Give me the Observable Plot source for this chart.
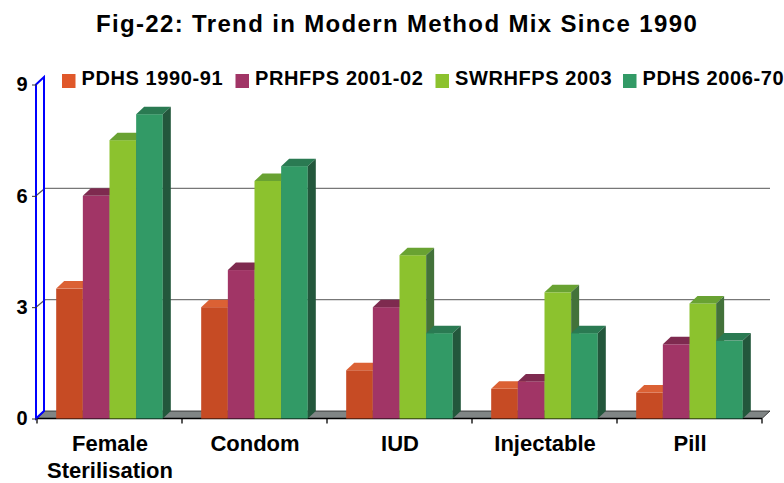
<!DOCTYPE html>
<html><head><meta charset="utf-8">
<script src="https://cdn.jsdelivr.net/npm/d3@7"></script>
<script src="https://cdn.jsdelivr.net/npm/@observablehq/plot@0.6"></script>
<style>
html,body{margin:0;padding:0;background:#fff;}
#chart{position:relative;width:784px;height:483px;overflow:hidden;}
#chart svg text{font-family:"Liberation Sans",Arial,sans-serif;}
g[aria-label="xlabels"] text{letter-spacing:1.4px;}
g[aria-label="y-axis tick label"] text{font-weight:bold;}
</style></head><body><div id="chart"></div>
<script>
// ---- data ----
const titleText = "Fig-22: Trend in Modern Method Mix Since 1990";
const categories = ["Female\nSterilisation", "Condom", "IUD", "Injectable", "Pill"];
const series = ["PDHS 1990-91", "PRHFPS 2001-02", "SWRHFPS 2003", "PDHS 2006-70"];
const pdhs1990 = [3.5, 3.0, 1.3, 0.8, 0.7];
const prhfps2001 = [6.0, 4.0, 3.0, 1.0, 2.0];
const swrhfps2003 = [7.5, 6.4, 4.4, 3.4, 3.1];
const pdhs2006 = [8.2, 6.8, 2.3, 2.3, 2.1];
const yTicks = [0, 3, 6, 9];

// ---- style ----
const frontColors = ["#C64B24", "#A13566", "#8CC22E", "#329A66"];
const topColors = ["#DB6134", "#7E2A4F", "#69A232", "#2A7A52"];
const sideColors = ["#93371A", "#6A2243", "#43723A", "#23573C"];
const legendColors = ["#E0582A", "#A13566", "#8CC22E", "#329A66"];
const DX = 8, DY = 7.5;

const seriesValues = [pdhs1990, prhfps2001, swrhfps2003, pdhs2006];
const rows = [];
categories.forEach((c, ci) => seriesValues.forEach((vals, si) =>
  rows.push({cat: c, series: series[si], value: vals[ci], si})));

const NS = "http://www.w3.org/2000/svg";
function el(tag, attrs) {
  const e = document.createElementNS(NS, tag);
  for (const k in attrs) e.setAttribute(k, attrs[k]);
  return e;
}

function addFaces(index, scales, values, dimensions, context, next) {
  const g = next(index, scales, values, dimensions, context);
  Array.from(g.querySelectorAll("rect")).forEach((r, k) => {
    const i = r.__data__ ?? index[k];
    const s = rows[i].si;
    const x = +r.getAttribute("x"), y = +r.getAttribute("y");
    const w = +r.getAttribute("width"), h = +r.getAttribute("height");
    const top = el("polygon", {points: `${x},${y} ${x+w},${y} ${x+w+DX},${y-DY} ${x+DX},${y-DY}`, fill: topColors[s]});
    const side = el("polygon", {points: `${x+w},${y} ${x+w+DX},${y-DY} ${x+w+DX},${y+h-DY} ${x+w},${y+h}`, fill: sideColors[s]});
    r.after(top, side);
  });
  return g;
}

const plot = Plot.plot({
  width: 784, height: 483,
  marginTop: 84.5, marginBottom: 64.5, marginLeft: 36, marginRight: 21,
  style: {background: "transparent", fontFamily: "Liberation Sans, Arial, sans-serif", color: "black"},
  fx: {domain: categories, padding: 0, axis: null},
  x: {domain: series, paddingInner: 0, paddingOuter: 0.72, round: false, axis: null},
  y: {domain: [0, 9], axis: null},
  color: {domain: series, range: frontColors},
  marks: [
    Plot.axisY({ticks: yTicks, tickSize: 5, tickPadding: 5, fontSize: 20, fontWeight: "bold", stroke: "#333", fill: "black", label: null}),
    Plot.barY(rows, {fx: "cat", x: "series", y: "value", fill: "series", render: addFaces}),
    Plot.text(categories, {fx: d => d, text: d => d, frameAnchor: "bottom", lineAnchor: "top", dy: 12,
      fontSize: 22, fontWeight: "bold", lineHeight: 1.25, fill: "black", ariaLabel: "xlabels"})
  ]
});

// ---- 3D frame (walls, floor, gridlines) from the plot's scales ----
const ys = plot.scale("y"), fxs = plot.scale("fx");
const x0 = fxs.apply(categories[0]);
const xEnd = fxs.apply(categories[categories.length - 1]) + fxs.bandwidth;
const y0 = ys.apply(0), yTop = ys.apply(d3.max(yTicks));
const frame = el("g", {"aria-label": "frame"});
yTicks.filter(t => t > 0 && t < d3.max(yTicks)).forEach(t => {
  const yy = ys.apply(t);
  frame.append(el("line", {x1: x0 + DX, x2: xEnd + DX, y1: yy - DY, y2: yy - DY, stroke: "#777", "stroke-width": 1.4}));
  frame.append(el("line", {x1: x0 - 1, x2: x0 + DX, y1: yy, y2: yy - DY, stroke: "#555", "stroke-width": 1.2}));
});
frame.append(el("polygon", {points: `${x0},${y0} ${xEnd},${y0} ${xEnd+DX},${y0-DY} ${x0+DX},${y0-DY}`,
  fill: "#808585", stroke: "#222", "stroke-width": 0.8}));
frame.append(el("line", {x1: x0 - 1, x2: xEnd, y1: y0, y2: y0, stroke: "#000", "stroke-width": 1.5}));
for (let k = 0; k <= categories.length; k++) {
  const xx = x0 + k * fxs.bandwidth;
  frame.append(el("line", {x1: xx, x2: xx, y1: y0, y2: y0 + 5, stroke: "#000", "stroke-width": 1.3}));
}
frame.append(el("polygon", {points: `${x0-1},${y0} ${x0-1},${yTop} ${x0-1+DX},${yTop-DY} ${x0-1+DX},${y0-DY}`,
  fill: "none", stroke: "#0000FF", "stroke-width": 2}));
const firstG = plot.querySelector("g");
plot.insertBefore(frame, firstG);

// ---- title and legend ----
const title = el("text", {x: 397, y: 32, "text-anchor": "middle", "font-size": 24, "font-weight": "bold",
  "letter-spacing": "1.35px", fill: "#000"});
title.textContent = titleText;
plot.append(title);
const legX = [62, 235.5, 435.5, 623];
series.forEach((s, i) => {
  plot.append(el("rect", {x: legX[i], y: 74, width: 13.5, height: 14, fill: legendColors[i]}));
  const t = el("text", {x: legX[i] + 19.5, y: 85, "text-anchor": "start", "font-size": 20, "font-weight": "bold",
    "letter-spacing": "0.6px", fill: "#000"});
  t.textContent = s;
  plot.append(t);
});

document.getElementById("chart").append(plot);
</script></body></html>
